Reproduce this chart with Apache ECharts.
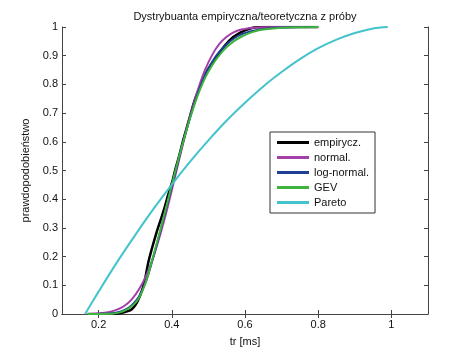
<!DOCTYPE html>
<html>
<head>
  <meta charset="UTF-8">
  <title>Dystrybuanta</title>
  <style>
    body { margin: 0; background: #fff; }
    #myChart { width: 473px; height: 354px; }
  </style>
  <script src="https://cdn.jsdelivr.net/npm/echarts@6.0.0/dist/echarts.min.js"></script>
</head>
<body>
<div id="myChart"></div>
<script>
// values
var seriesNames = ['empirycz.', 'normal.', 'log-normal.', 'GEV', 'Pareto'];
var xTicks = [0.2, 0.4, 0.6, 0.8, 1];

var empX = [0.24, 0.26, 0.28, 0.29, 0.30, 0.313, 0.325, 0.335, 0.345, 0.358, 0.37, 0.38, 0.39, 0.40,
            0.41, 0.42, 0.43, 0.44, 0.45, 0.46, 0.47, 0.481, 0.50, 0.522, 0.545, 0.567, 0.59, 0.61, 0.631, 0.66, 0.80];
var empY = [0, 0.003, 0.01, 0.016, 0.03, 0.063, 0.11, 0.175, 0.225, 0.283, 0.33, 0.37, 0.415, 0.455,
            0.505, 0.55, 0.6, 0.645, 0.69, 0.735, 0.77, 0.801, 0.855, 0.894, 0.935, 0.964, 0.982, 0.993, 0.999, 1, 1];

var fitX = [0.17, 0.19, 0.21, 0.23, 0.25, 0.27, 0.29, 0.31, 0.33, 0.35, 0.37, 0.39, 0.41, 0.43, 0.45,
            0.47, 0.49, 0.51, 0.53, 0.55, 0.57, 0.59, 0.61, 0.63, 0.65, 0.70, 0.75, 0.80];
var normY = [0.0006, 0.0015, 0.0034, 0.0073, 0.015, 0.028, 0.050, 0.085, 0.134, 0.200, 0.284, 0.379, 0.484,
             0.590, 0.689, 0.776, 0.848, 0.902, 0.941, 0.966, 0.982, 0.991, 0.996, 0.998, 0.9992, 1, 1, 1];
var lognY = [0, 0, 0.0005, 0.002, 0.005, 0.013, 0.03, 0.06, 0.115, 0.2, 0.295, 0.395, 0.495, 0.595, 0.685,
             0.765, 0.83, 0.878, 0.914, 0.94, 0.96, 0.974, 0.983, 0.989, 0.993, 0.998, 1, 1];
var gevY = [0, 0, 0, 0.0005, 0.003, 0.011, 0.026, 0.055, 0.115, 0.205, 0.3, 0.4, 0.5, 0.595, 0.683,
            0.758, 0.82, 0.866, 0.902, 0.93, 0.951, 0.966, 0.978, 0.986, 0.991, 0.997, 0.999, 1];

var parX = [0.163, 0.20, 0.25, 0.30, 0.35, 0.40, 0.45, 0.50, 0.55, 0.60, 0.65, 0.70, 0.75, 0.80, 0.85, 0.90, 0.95, 0.99];
var parY = [0, 0.078, 0.18, 0.275, 0.366, 0.451, 0.531, 0.605, 0.674, 0.736, 0.793, 0.843, 0.888, 0.926, 0.956, 0.979, 0.995, 1];

var colors = ['#000000', '#a53fa8', '#1f3f96', '#3db43d', '#43c3cc'];

function zip(xs, ys) {
  return xs.map(function (x, i) { return [x, ys[i]]; });
}

var lines = [zip(empX, empY), zip(fitX, normY), zip(fitX, lognY), zip(fitX, gevY), zip(parX, parY)];

var myChart = echarts.init(document.getElementById('myChart'));

var axisLineStyle = { color: '#444', width: 1 };
var font = 'Liberation Sans, Arial, sans-serif';

var option = {
  animation: false,
  backgroundColor: '#fff',
  title: {
    text: 'Dystrybuanta empiryczna/teoretyczna z próby',
    left: 240,
    textAlign: 'center',
    top: 6,
    textStyle: { fontSize: 11, fontWeight: 'normal', color: '#111', fontFamily: font }
  },
  legend: {
    orient: 'vertical',
    left: 270,
    top: 132,
    padding: [4, 6, 4, 7],
    itemGap: 2,
    itemWidth: 32,
    itemHeight: 3,
    icon: 'rect',
    borderColor: '#333',
    borderWidth: 1,
    backgroundColor: '#fff',
    data: seriesNames,
    textStyle: { fontSize: 11, color: '#111', fontFamily: font, lineHeight: 13 }
  },
  grid: { left: 62, right: 45, top: 27, bottom: 40 },
  xAxis: [
    {
      type: 'value',
      min: 0.1,
      max: 1.1,
      name: 'tr [ms]',
      nameLocation: 'middle',
      nameGap: 22,
      nameTextStyle: { fontSize: 11, color: '#111', fontFamily: font },
      axisLine: { show: true, lineStyle: axisLineStyle },
      axisTick: { show: true, inside: true, length: 4, customValues: xTicks, lineStyle: axisLineStyle },
      axisLabel: { customValues: xTicks, fontSize: 11, color: '#111', fontFamily: font, margin: 5 },
      splitLine: { show: false }
    },
    {
      type: 'value',
      position: 'top',
      min: 0.1,
      max: 1.1,
      axisLine: { show: true, lineStyle: axisLineStyle },
      axisTick: { show: true, inside: true, length: 4, customValues: xTicks, lineStyle: axisLineStyle },
      axisLabel: { show: false },
      splitLine: { show: false }
    }
  ],
  yAxis: [
    {
      type: 'value',
      min: 0,
      max: 1,
      interval: 0.1,
      name: 'prawdopodobieństwo',
      nameLocation: 'middle',
      nameGap: 25,
      nameTextStyle: { fontSize: 11, color: '#111', fontFamily: font },
      axisLine: { show: true, lineStyle: axisLineStyle },
      axisTick: { show: true, inside: true, length: 4, lineStyle: axisLineStyle },
      axisLabel: { fontSize: 11, color: '#111', fontFamily: font, margin: 4 },
      splitLine: { show: false }
    },
    {
      type: 'value',
      position: 'right',
      min: 0,
      max: 1,
      interval: 0.1,
      axisLine: { show: true, lineStyle: axisLineStyle },
      axisTick: { show: true, inside: true, length: 4, lineStyle: axisLineStyle },
      axisLabel: { show: false },
      splitLine: { show: false }
    }
  ],
  series: seriesNames.map(function (name, i) {
    return {
      type: 'line',
      name: name,
      data: lines[i],
      smooth: 0.3,
      showSymbol: false,
      clip: true,
      z: 2 + i,
      lineStyle: { color: colors[i], width: i === 0 ? 2.5 : 2 },
      itemStyle: { color: colors[i] }
    };
  })
};

myChart.setOption(option);
</script>
</body>
</html>
